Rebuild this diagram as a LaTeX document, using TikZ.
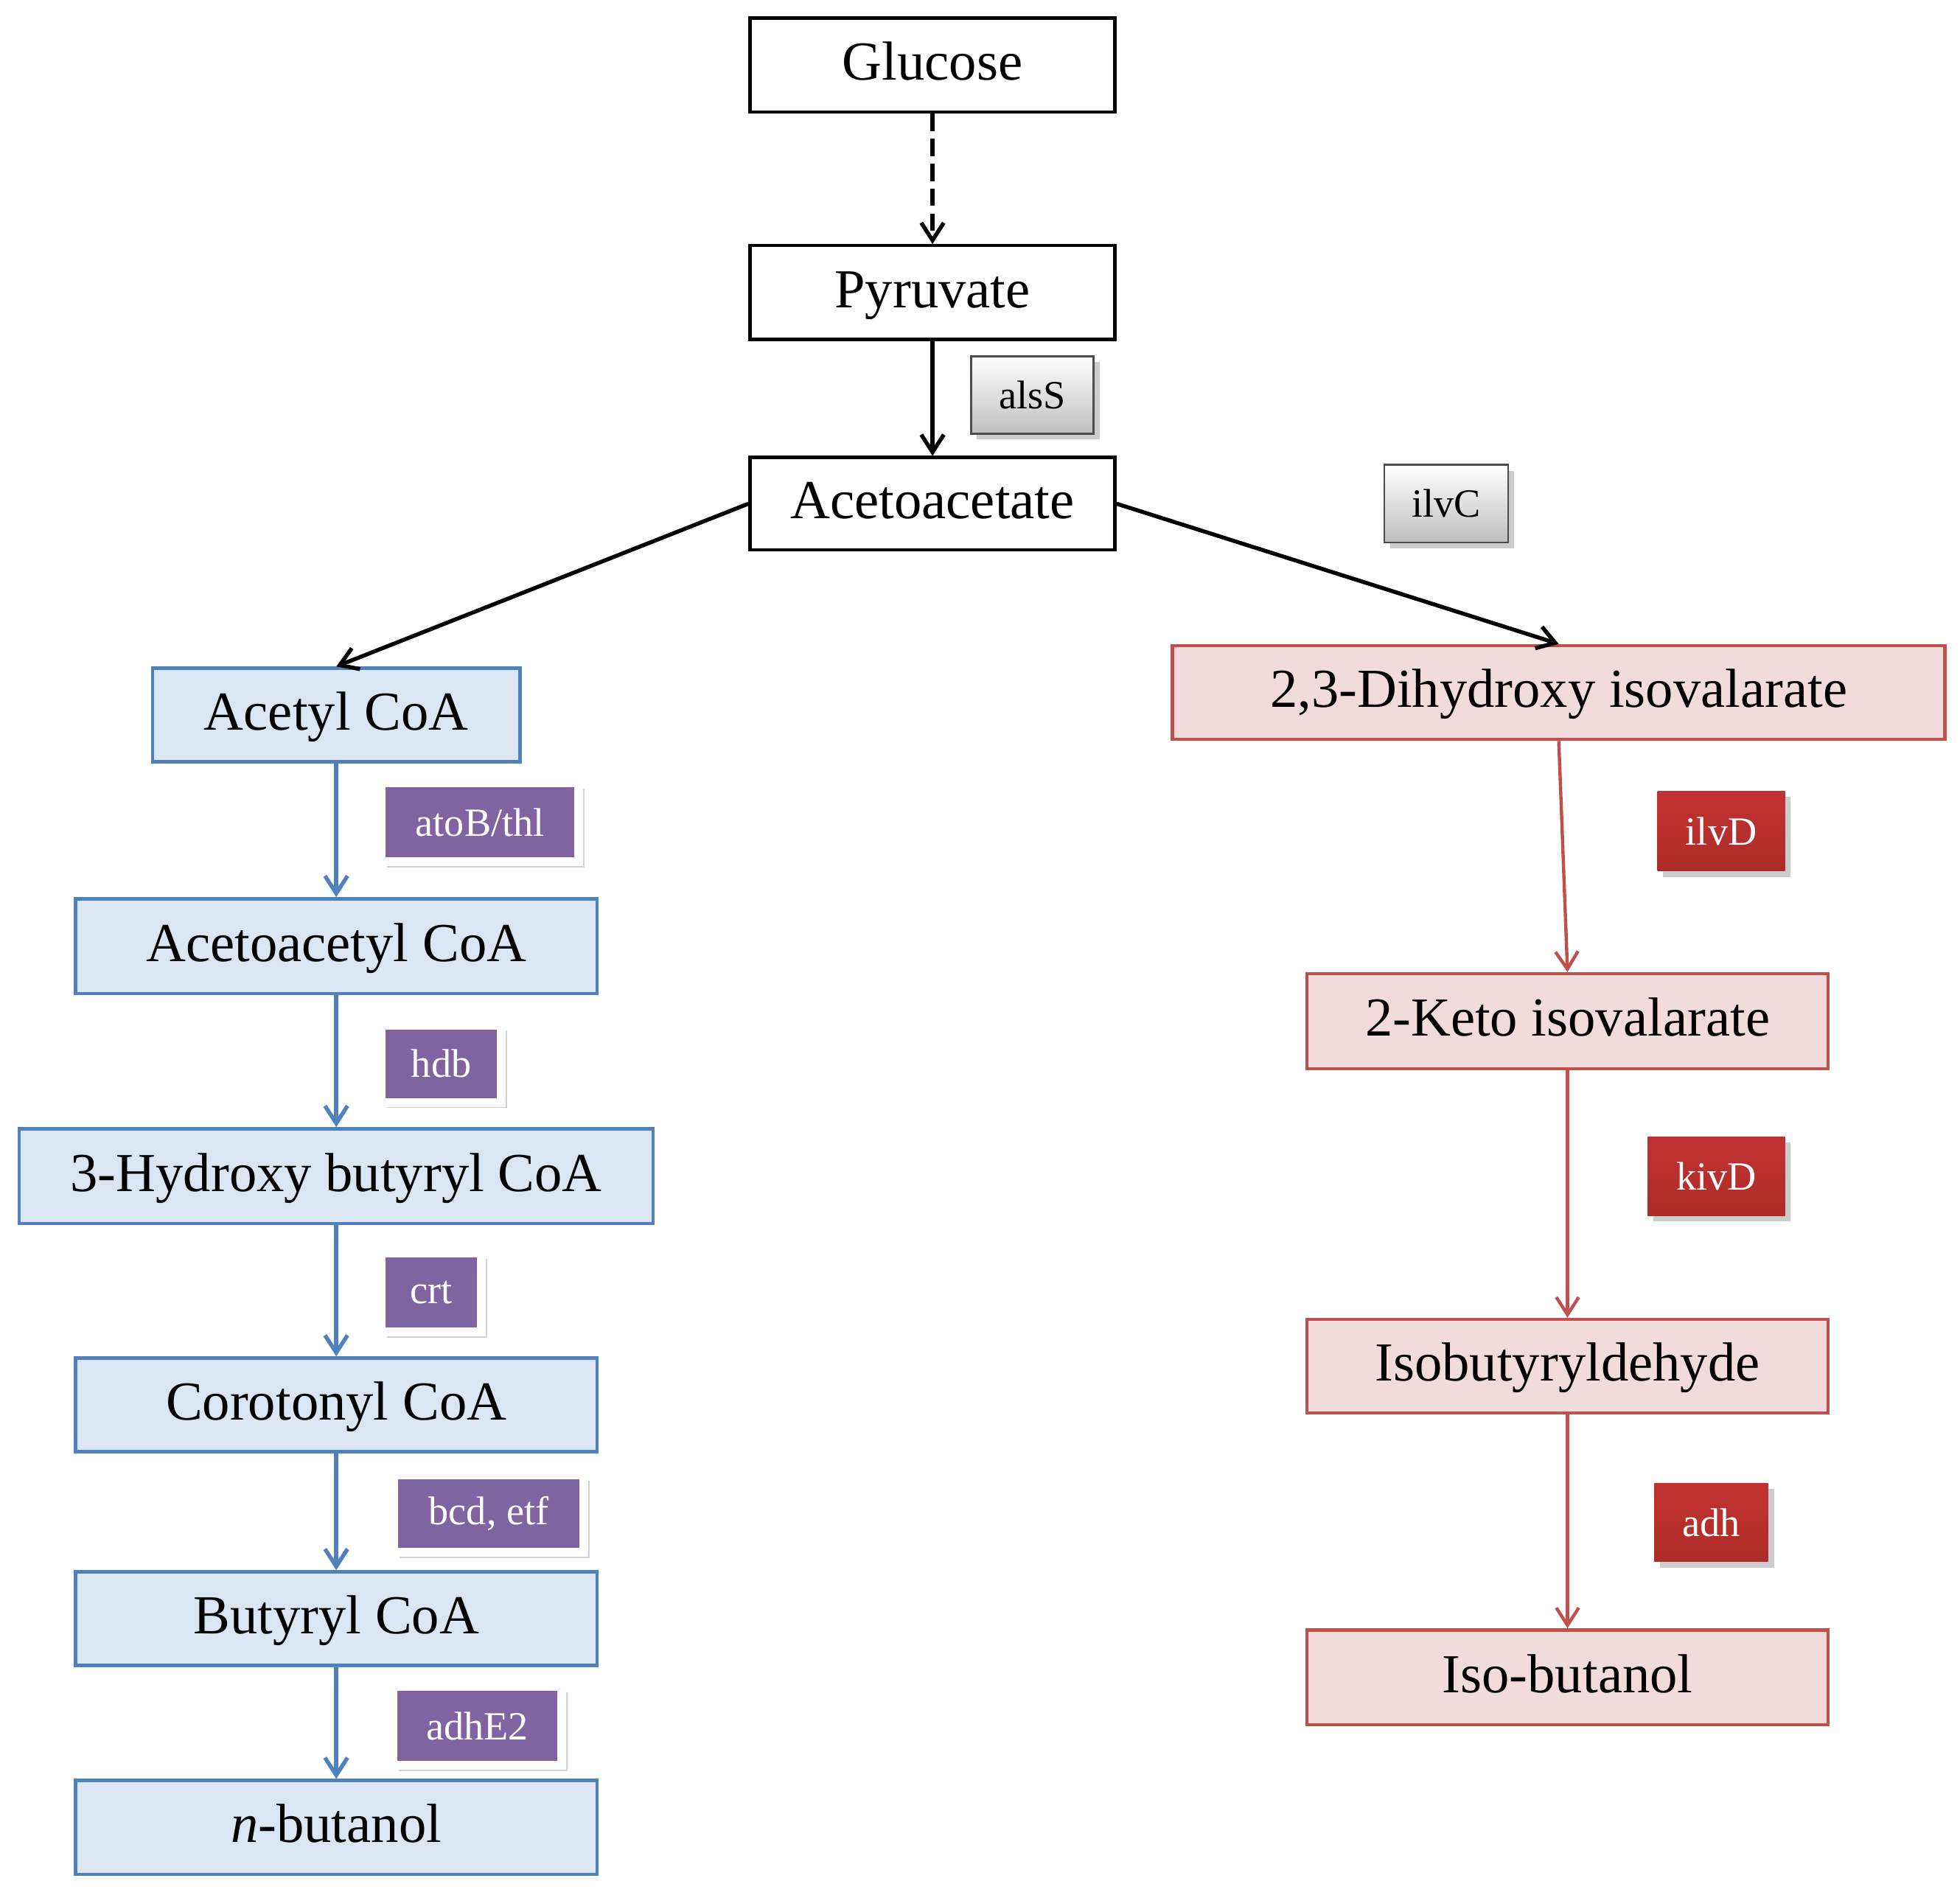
\documentclass[tikz,border=0pt]{standalone}
\usepackage{fontspec}
\setmainfont{Liberation Serif}
\usetikzlibrary{shadows,arrows.meta}
\definecolor{bfill}{HTML}{DCE6F2}\definecolor{bline}{HTML}{4F81BD}
\definecolor{rfill}{HTML}{F2DCDB}\definecolor{rline}{HTML}{C0504D}
\definecolor{purp}{HTML}{8064A2}\definecolor{redd}{HTML}{C0302C}
\begin{document}
\begin{tikzpicture}[x=0.5pt,y=-0.5pt,
 box/.style={draw,line width=1.3pt,inner sep=0pt,text height=15pt,text depth=3pt,font=\fontsize{22}{24}\selectfont},
 wb/.style={box,fill=white,draw=black},
 bb/.style={box,fill=bfill,draw=bline},
 rb/.style={box,fill=rfill,draw=rline},
 gl/.style={draw=black!70,line width=0.8pt,top color=white,bottom color=black!25,inner sep=0pt,font=\fontsize{16}{18}\selectfont,drop shadow={opacity=0.4}},
 pl/.style={fill=purp,text=white,draw=white,line width=3.5pt,inner sep=0pt,font=\fontsize{16}{18}\selectfont,drop shadow={opacity=0.35}},
 rl/.style={top color=red!70!black!80,bottom color=redd!90!black,text=white,inner sep=0pt,font=\fontsize{16}{18}\selectfont,drop shadow={opacity=0.4}},
 ka/.style={-{Straight Barb[length=7pt,width=9pt]},line width=1.6pt},
 ba/.style={-{Straight Barb[length=7pt,width=9pt]},line width=1.6pt,draw=bline},
 ra/.style={-{Straight Barb[length=7pt,width=9pt]},line width=1.3pt,draw=rline}]
\useasboundingbox (0,0) rectangle (1568,1516);
\newcommand\bx[7]{\node[#1,minimum width=#4*0.5pt,minimum height=#5*0.5pt] (#6) at (#2,#3) {#7};}
\bx{wb}{746}{52}{292}{75}{glu}{Glucose}
\bx{wb}{746}{234}{292}{75}{pyr}{Pyruvate}
\bx{wb}{746}{403}{292}{74}{aca}{Acetoacetate}
\bx{gl}{826}{316}{98}{62}{als}{alsS}
\bx{gl}{1157}{403}{99}{62}{ilvc}{ilvC}
\bx{bb}{269}{572}{294}{75}{b1}{Acetyl CoA}
\bx{bb}{269}{757}{417}{76}{b2}{Acetoacetyl CoA}
\bx{bb}{269}{941}{507}{76}{b3}{3-Hydroxy butyryl CoA}
\bx{bb}{269}{1124}{417}{75}{b4}{Corotonyl CoA}
\bx{bb}{269}{1295}{417}{75}{b5}{Butyryl CoA}
\bx{bb}{269}{1462}{417}{75}{b6}{\textit{n}-butanol}
\bx{pl}{384}{658}{158}{63}{e1}{atoB/thl}
\bx{pl}{353}{851}{96}{62}{e2}{hdb}
\bx{pl}{345}{1034}{80}{63}{e3}{crt}
\bx{pl}{391}{1211}{152}{62}{e4}{bcd, etf}
\bx{pl}{382}{1381}{135}{63}{e5}{adhE2}
\bx{rb}{1247}{554}{618}{75}{r1}{2,3-Dihydroxy isovalarate}
\bx{rb}{1254}{817}{417}{76}{r2}{2-Keto isovalarate}
\bx{rb}{1254}{1093}{417}{75}{r3}{Isobutyryldehyde}
\bx{rb}{1254}{1342}{417}{76}{r4}{Iso-butanol}
\bx{rl}{1377}{665}{102}{64}{f1}{ilvD}
\bx{rl}{1373}{941}{110}{63}{f2}{kivD}
\bx{rl}{1369}{1218}{91}{63}{f3}{adh}
\draw[ka,dash pattern=on 7pt off 3pt] (glu) -- (pyr);
\draw[ka] (pyr) -- (aca);
\draw[ka] (aca.west) -- (b1.north);
\draw[ka] (aca.east) -- (r1.north);
\draw[ba] (b1) -- (b2);
\draw[ba] (b2) -- (b3);
\draw[ba] (b3) -- (b4);
\draw[ba] (b4) -- (b5);
\draw[ba] (b5) -- (b6);
\draw[ra] (r1.south) -- (r2.north);
\draw[ra] (r2) -- (r3);
\draw[ra] (r3) -- (r4);
\end{tikzpicture}
\end{document}
